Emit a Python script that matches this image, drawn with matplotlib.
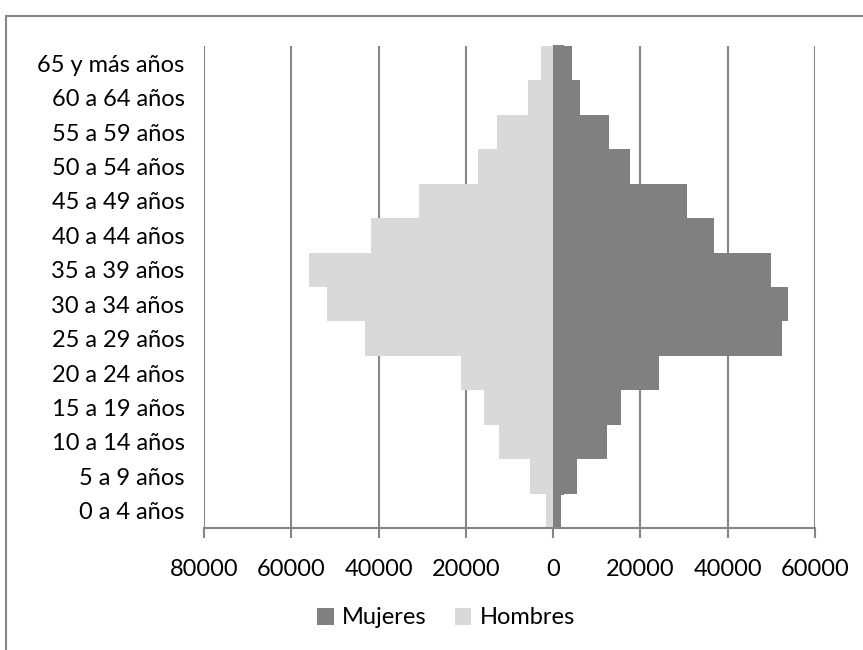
import matplotlib
matplotlib.use('Agg')
import matplotlib.pyplot as plt
from matplotlib.patches import Rectangle

# age groups, bottom to top
grupos = ['0 a 4 años', '5 a 9 años', '10 a 14 años', '15 a 19 años',
          '20 a 24 años', '25 a 29 años', '30 a 34 años', '35 a 39 años',
          '40 a 44 años', '45 a 49 años', '50 a 54 años', '55 a 59 años',
          '60 a 64 años', '65 y más años']
mujeres = [1700, 5450, 12250, 15650, 24250, 52400, 53750, 49900,
           36800, 30650, 17700, 12900, 6050, 4300]
hombres = [1650, 5350, 12350, 15850, 21150, 43000, 51750, 56000,
           41650, 30650, 17300, 12950, 5800, 2700]
ticks_x = [-80000, -60000, -40000, -20000, 0, 20000, 40000, 60000]
ticks_x_labels = ['80000', '60000', '40000', '20000', '0', '20000', '40000', '60000']

gris_osc = '#808080'
gris_cla = '#d9d9d9'
linea = '#868686'

plt.rcParams['font.family'] = ['Lato', 'DejaVu Sans']

fig = plt.figure(figsize=(8.63, 6.5), dpi=100)
ax = fig.add_axes([204/863, 1-528/650, (815-204)/863, (528-46)/650])

y = range(len(grupos))
ax.barh(y, mujeres, height=1.0, color=gris_osc, label='Mujeres', zorder=2)
ax.barh(y, [-v for v in hombres], height=1.0, color=gris_cla, label='Hombres', zorder=2)

ax.set_xlim(-80000, 60000)
ax.set_ylim(-0.5, len(grupos) - 0.5)

ax.set_xticks(ticks_x)
ax.set_xticklabels(ticks_x_labels, fontsize=17, color='black')
ax.xaxis.grid(True, color=linea, linewidth=1.5, zorder=0)
ax.set_axisbelow(True)
ax.tick_params(axis='x', length=7, width=1.5, color=linea, pad=15)

ax.set_yticks(list(y))
ax.set_yticklabels(grupos, fontsize=17, color='black')
ax.tick_params(axis='y', length=0, pad=14)

for s in ['top', 'right', 'left']:
    ax.spines[s].set_visible(False)
ax.spines['bottom'].set_color(linea)
ax.spines['bottom'].set_linewidth(1.5)

# category axis at zero with boundary tick marks
eje = ax.secondary_yaxis(80000/140000)
eje.set_yticks([i - 0.5 for i in range(len(grupos) + 1)])
eje.set_yticklabels([])
eje.tick_params(axis='y', length=8, width=1.5, color=linea, direction='out')
eje.spines['left'].set_color(linea)
eje.spines['left'].set_linewidth(1.5)

ax.legend(loc='center', bbox_to_anchor=(446/863, 1-618/650),
          bbox_transform=fig.transFigure, ncol=2, frameon=False,
          fontsize=17, handlelength=0.7, handleheight=0.7,
          handletextpad=0.35, columnspacing=1.2)

# chart frame (cropped on right and bottom)
fig.patches.append(Rectangle((6/863, -0.1), 1.2, 1 + 0.1 - 16/650,
                             transform=fig.transFigure, fill=False,
                             edgecolor=linea, linewidth=1.5))

fig.savefig('out.png', dpi=100)
